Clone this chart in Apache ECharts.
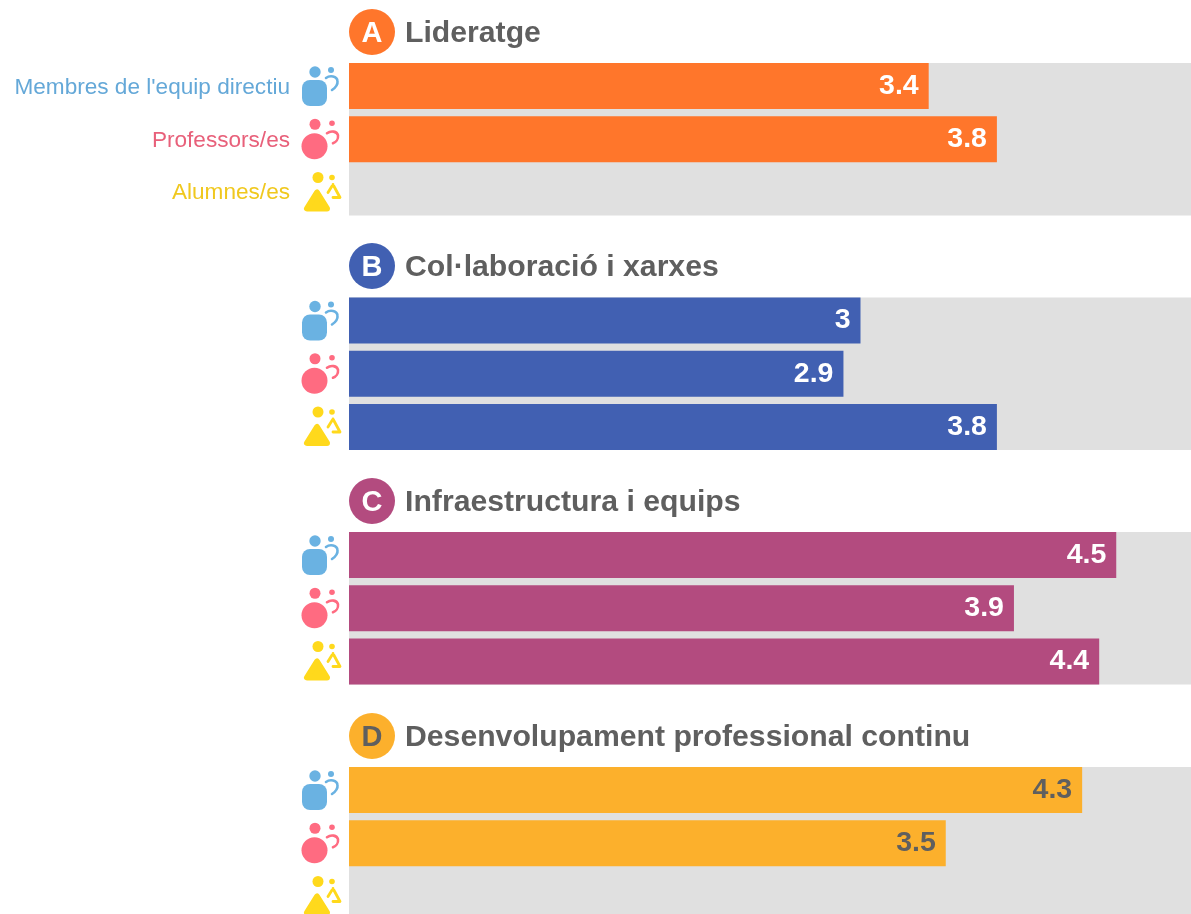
<!DOCTYPE html>
<html>
<head>
<meta charset="utf-8">
<style>
  html, body { margin: 0; padding: 0; background: #fff; overflow: hidden; width: 1191px; height: 914px; }
  /* l'eix arriba a 5 fora de la finestra: el gràfic és més gran i queda retallat */
  #myChart { width: 1202px; height: 930px; }
</style>
</head>
<body>
<div id="myChart"></div>
<script src="https://cdn.jsdelivr.net/npm/echarts@6/dist/echarts.min.js"></script>
<script>
// dades
const roles = ["Membres de l'equip directiu", 'Professors/es', 'Alumnes/es'];
const letters = ['A', 'B', 'C', 'D'];
const sections = ['Lideratge', 'Col·laboració i xarxes', 'Infraestructura i equips', 'Desenvolupament professional continu'];
const lideratge = [3.4, 3.8, null];
const collaboracio = [3, 2.9, 3.8];
const infraestructura = [4.5, 3.9, 4.4];
const desenvolupament = [4.3, 3.5, null];
const allValues = [lideratge, collaboracio, infraestructura, desenvolupament];

// colors
const sectionColors = ['#FF762B', '#4160B2', '#B34B7F', '#FCB02C'];
const valueColors = ['#fff', '#fff', '#fff', '#5f5f5f'];
const letterColors = ['#fff', '#fff', '#fff', '#5f5f5f'];
const textColors = ['#64A8D8', '#E8607A', '#F0C81E'];
const roleKeys = ['blue', 'red', 'yellow'];

// maquetació
const barTops = [63, 297.5, 532, 767];
const titleTops = [9, 243, 478, 713];
const pitch = 53.25;
const fontName = '"Liberation Sans", Arial, sans-serif';

// icones dels rols
function svgIcon (body) {
  const svg = '<svg xmlns="http://www.w3.org/2000/svg" width="42" height="42" viewBox="0 0 42 42">' + body + '</svg>';
  return 'data:image/svg+xml;charset=utf-8,' + encodeURIComponent(svg);
}
const icons = {
  blue: svgIcon('<g fill="#6AB2E2"><circle cx="15" cy="7" r="5.7"/><rect x="2" y="15" width="25" height="26" rx="8"/><circle cx="31" cy="5" r="3"/></g>' +
    '<path d="M26 13C30 10 37 11 37.5 16C38 20 35 23 32 25" fill="none" stroke="#6AB2E2" stroke-width="2.6" stroke-linecap="round"/>'),
  red: svgIcon('<g fill="#FF6B81"><circle cx="15" cy="6" r="5.5"/><circle cx="14.5" cy="28" r="13"/><circle cx="32" cy="5" r="2.8"/></g>' +
    '<path d="M27 15C31 12 37 13 38 17C38.500 21 36 24 33 25" fill="none" stroke="#FF6B81" stroke-width="2.6" stroke-linecap="round"/>'),
  yellow: svgIcon('<g fill="#FFD91C"><circle cx="18" cy="6" r="5.5"/><path d="M17 21L7 37H27Z" stroke="#FFD91C" stroke-width="6" stroke-linejoin="round"/><circle cx="32" cy="6" r="2.8"/></g>' +
    '<path d="M33 13L28 21M33 13L40 26H33" fill="none" stroke="#FFD91C" stroke-width="2.8" stroke-linecap="round" stroke-linejoin="round"/>')
};

// graella de cada bloc: una per a les barres i una altra per al fons gris
const grids = [];
const xAxes = [];
const yAxes = [];
const series = [];
const titles = [];

barTops.forEach((top, i) => {
  grids.push({ left: 349, width: 852.5, top: top - (pitch - 46) / 2, height: pitch * 3 });
  xAxes.push({ type: 'value', gridIndex: i, min: 0, max: 5, show: false });
  yAxes.push({
    type: 'category',
    gridIndex: i,
    inverse: true,
    data: roles,
    axisLine: { show: false },
    axisTick: { show: false },
    axisLabel: {
      margin: 7,
      formatter: (value, idx) => {
        const text = i === 0 ? '{t' + idx + '|' + value + '}' : '';
        return text + '{' + roleKeys[idx] + '|}';
      },
      rich: {
        t0: { color: textColors[0], fontSize: 22.6, fontFamily: fontName, padding: [4, 10, 0, 0] },
        t1: { color: textColors[1], fontSize: 22.6, fontFamily: fontName, padding: [4, 10, 0, 0] },
        t2: { color: textColors[2], fontSize: 22.6, fontFamily: fontName, padding: [0, 10, 0, 0] },
        blue: { width: 42, height: 42, backgroundColor: { image: icons.blue } },
        red: { width: 42, height: 42, backgroundColor: { image: icons.red } },
        yellow: { width: 42, height: 42, backgroundColor: { image: icons.yellow } }
      }
    }
  });
  series.push({
    name: sections[i],
    type: 'bar',
    xAxisIndex: i,
    yAxisIndex: i,
    barWidth: 46,
    silent: true,
    animation: false,
    data: allValues[i],
    itemStyle: { color: sectionColors[i] },
    label: {
      show: true,
      position: 'insideRight',
      distance: 10,
      color: valueColors[i],
      fontSize: 28.5,
      fontWeight: 'bold',
      fontFamily: fontName
    }
  });
  titles.push({
    left: 349,
    top: titleTops[i],
    padding: 0,
    text: '{c|' + letters[i] + '}{n|' + sections[i] + '}',
    textStyle: {
      rich: {
        c: {
          width: 46, height: 42, borderRadius: 23, align: 'center',
          padding: [4, 0, 0, 0],
          backgroundColor: sectionColors[i], color: letterColors[i],
          fontSize: 29, fontWeight: 'bold', fontFamily: fontName
        },
        n: {
          color: '#5f5f5f', fontSize: 30.2, fontWeight: 'bold', fontFamily: fontName,
          padding: [4, 0, 0, 10]
        }
      }
    }
  });
});

// fons gris
barTops.forEach(top => {
  grids.push({ show: true, left: 349, width: 852.5, top: top, height: 152.5, backgroundColor: '#E0E0E0', borderWidth: 0 });
});

const myChart = echarts.init(document.getElementById('myChart'), null, { renderer: 'canvas' });
myChart.setOption({
  backgroundColor: '#fff',
  animation: false,
  title: titles,
  grid: grids,
  xAxis: xAxes,
  yAxis: yAxes,
  series: series
});
window.onresize = myChart.resize;
</script>
</body>
</html>
